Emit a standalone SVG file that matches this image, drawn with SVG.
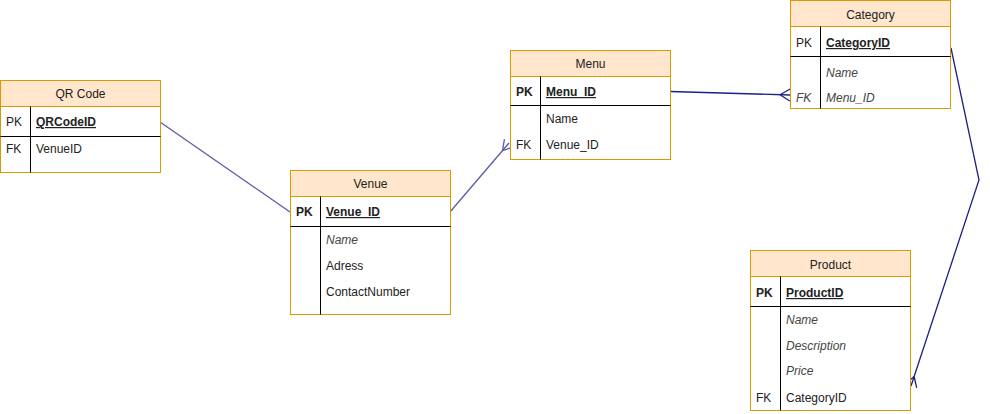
<svg xmlns="http://www.w3.org/2000/svg" width="990" height="414" viewBox="0 0 990 414">
<defs>
<style>
.box{fill:#ffffff;stroke:#d79b00;stroke-width:1}
.hdr{fill:#ffe6cc;stroke:#d79b00;stroke-width:1}
.sep{stroke:#000000;stroke-width:1}
text{font-family:"Liberation Sans",Arial,sans-serif;font-size:12px;fill:#222222}
.t{text-anchor:middle}
.b{font-weight:bold}
.u{text-decoration:underline}
.i{font-style:italic;fill:#444444}
.c1{fill:none;stroke:#5b5ba8;stroke-width:1.3}
.c2{fill:none;stroke:#1f1f85;stroke-width:1.3}
</style>
<marker id="many" markerUnits="userSpaceOnUse" markerWidth="20" markerHeight="20" refX="0" refY="10" orient="auto" viewBox="-12 0 20 20">
<path d="M-10 10 L0 4 M-10 10 L0 16 M-10 10 L0 10" fill="none" stroke="context-stroke" stroke-width="1.3"/>
</marker>
<marker id="many1" markerUnits="userSpaceOnUse" markerWidth="20" markerHeight="20" refX="0" refY="10" orient="auto" viewBox="-12 0 20 20">
<path d="M-10 10 L0 4 M-10 10 L0 16" fill="none" stroke="#5b5ba8" stroke-width="1.3"/>
</marker>
<marker id="many2" markerUnits="userSpaceOnUse" markerWidth="20" markerHeight="20" refX="0" refY="10" orient="auto" viewBox="-12 0 20 20">
<path d="M-10 10 L0 4 M-10 10 L0 16" fill="none" stroke="#1f1f85" stroke-width="1.3"/>
</marker>
</defs>
<rect width="990" height="414" fill="#ffffff"/>

<g id="connectors">
<path class="c1" d="M160 122 L290 212"/>
<path class="c1" d="M450 212 L509 143" marker-end="url(#many1)"/>
<path class="c2" d="M670 91.5 L790 95" marker-end="url(#many2)"/>
<path class="c2" d="M951 48 L979 180 L911 386" marker-end="url(#many2)"/>
</g>

<g id="qrcode">
<rect class="box" x="0.5" y="80.5" width="160" height="92"/>
<rect class="hdr" x="0.5" y="80.5" width="160" height="26"/>
<line class="sep" x1="0.5" y1="136.5" x2="160.5" y2="136.5"/>
<line class="sep" x1="30.5" y1="106.5" x2="30.5" y2="172.5"/>
<text class="t" x="80.5" y="98">QR Code</text>
<text x="6" y="126">PK</text>
<text class="u b" x="36" y="126">QRCodeID</text>
<text x="6" y="153">FK</text>
<text x="36" y="153">VenueID</text>
</g>

<g id="venue">
<rect class="box" x="290.5" y="170.5" width="160" height="144"/>
<rect class="hdr" x="290.5" y="170.5" width="160" height="26"/>
<line class="sep" x1="290.5" y1="226.5" x2="450.5" y2="226.5"/>
<line class="sep" x1="320.5" y1="196.5" x2="320.5" y2="314.5"/>
<text class="t" x="370.5" y="188">Venue</text>
<text class="b" x="296" y="216">PK</text>
<text class="u b" x="326" y="216">Venue_ID</text>
<text class="i" x="326" y="244">Name</text>
<text x="326" y="270">Adress</text>
<text x="326" y="296">ContactNumber</text>
</g>

<g id="menu">
<rect class="box" x="510.5" y="50.5" width="160" height="109"/>
<rect class="hdr" x="510.5" y="50.5" width="160" height="26"/>
<line class="sep" x1="510.5" y1="105.5" x2="670.5" y2="105.5"/>
<line class="sep" x1="540.5" y1="76.5" x2="540.5" y2="159.5"/>
<text class="t" x="590.5" y="68">Menu</text>
<text class="b" x="516" y="96">PK</text>
<text class="u b" x="546" y="96">Menu_ID</text>
<text x="546" y="123">Name</text>
<text x="516" y="149">FK</text>
<text x="546" y="149">Venue_ID</text>
</g>

<g id="category">
<rect class="box" x="790.5" y="0.5" width="160" height="108"/>
<rect class="hdr" x="790.5" y="0.5" width="160" height="26"/>
<line class="sep" x1="790.5" y1="56.5" x2="950.5" y2="56.5"/>
<line class="sep" x1="820.5" y1="26.5" x2="820.5" y2="108.5"/>
<text class="t" x="870.5" y="19">Category</text>
<text x="796" y="47">PK</text>
<text class="u b" x="826" y="47">CategoryID</text>
<text class="i" x="826" y="77">Name</text>
<text class="i" x="796" y="102">FK</text>
<text class="i" x="826" y="102">Menu_ID</text>
</g>

<g id="product">
<rect class="box" x="750.5" y="250.5" width="160" height="160"/>
<rect class="hdr" x="750.5" y="250.5" width="160" height="26"/>
<line class="sep" x1="750.5" y1="306.5" x2="910.5" y2="306.5"/>
<line class="sep" x1="780.5" y1="276.5" x2="780.5" y2="410.5"/>
<text class="t" x="830.5" y="269">Product</text>
<text class="b" x="756" y="297">PK</text>
<text class="u b" x="786" y="297">ProductID</text>
<text class="i" x="786" y="324">Name</text>
<text class="i" x="786" y="350">Description</text>
<text class="i" x="786" y="375">Price</text>
<text x="756" y="402">FK</text>
<text x="786" y="402">CategoryID</text>
</g>
</svg>
